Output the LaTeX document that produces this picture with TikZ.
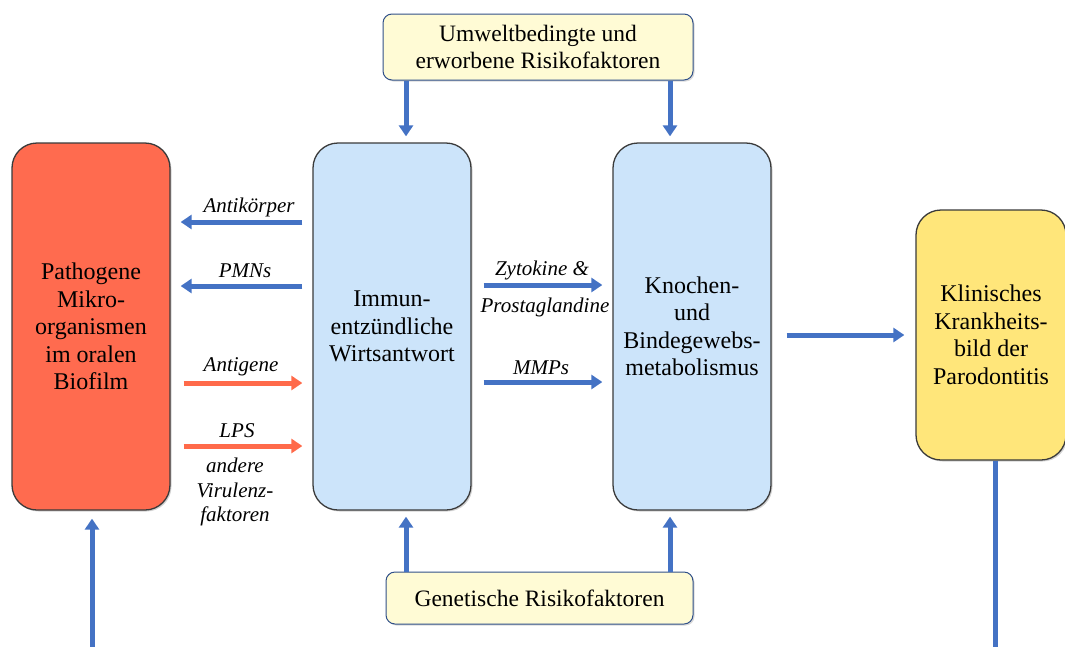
\documentclass[tikz,border=0pt]{standalone}
\usepackage{fontspec}
\setmainfont{Liberation Serif}
\usetikzlibrary{arrows.meta,shadows}
\definecolor{redbox}{HTML}{FF6B4F}
\definecolor{bluebox}{HTML}{CCE4FA}
\definecolor{yellowbox}{HTML}{FFE67A}
\definecolor{creambox}{HTML}{FFFBD5}
\definecolor{arrblue}{HTML}{4472C4}
\definecolor{arrred}{HTML}{FF6A4A}
\definecolor{edgegray}{HTML}{3A3A3A}
\tikzset{
  bigbox/.style={draw=edgegray, line width=1.3pt, rounded corners=25pt, align=center,
    font=\fontsize{24}{27.5}\selectfont, inner sep=0pt,
    drop shadow={shadow xshift=1.5pt, shadow yshift=-1.5pt, opacity=0.35}},
  riskbox/.style={draw=arrblue!70!black, line width=1pt, rounded corners=9pt, align=center,
    fill=creambox, font=\fontsize{23.5}{27.5}\selectfont, inner sep=0pt,
    drop shadow={shadow xshift=1.5pt, shadow yshift=-1.5pt, opacity=0.3}},
  barr/.style={draw=arrblue, line width=5pt, -{Triangle[width=14pt,length=11pt]}},
  rarr/.style={draw=arrred, line width=5pt, -{Triangle[width=14pt,length=11pt]}},
  bline/.style={draw=arrblue, line width=5pt},
  lbl/.style={font=\fontsize{21}{24.5}\selectfont\itshape, align=center, inner sep=0pt}
}
\begin{document}
\begin{tikzpicture}[x=1pt,y=-1pt]
\useasboundingbox (0,0) rectangle (1065,646);
\clip (0,0) rectangle (1065,646);

% boxes
\node[bigbox, fill=redbox, minimum width=158pt, minimum height=367pt] (red) at (91,326.5)
  {Pathogene\\Mikro-\\organismen\\im oralen\\Biofilm};
\node[bigbox, fill=bluebox, minimum width=158pt, minimum height=367pt] (imm) at (392,326.5)
  {Immun-\\entzündliche\\Wirtsantwort};
\node[bigbox, fill=bluebox, minimum width=158pt, minimum height=367pt] (kno) at (692,326.5)
  {Knochen-\\und\\Bindegewebs-\\metabolismus};
\node[bigbox, fill=yellowbox, minimum width=150pt, minimum height=250pt] (kli) at (991,335)
  {Klinisches\\Krankheits-\\bild der\\Parodontitis};
\node[riskbox, minimum width=310pt, minimum height=66pt] (umw) at (538,47)
  {Umweltbedingte und\\erworbene Risikofaktoren};
\node[riskbox, minimum width=307pt, minimum height=52pt] (gen) at (539.5,598)
  {Genetische Risikofaktoren};

% risk factor arrows
\draw[barr, shorten >=6pt] (umw.south -| 406,0) -- (imm.north -| 406,0);
\draw[barr, shorten >=6pt] (umw.south -| 670,0) -- (kno.north -| 670,0);
\draw[barr, shorten >=6pt] (gen.north -| 406,0) -- (imm.south -| 406,0);
\draw[barr, shorten >=6pt] (gen.north -| 670,0) -- (kno.south -| 670,0);

% between red and immune
\draw[barr, shorten <=10pt, shorten >=10pt] (imm.west |- 0,222) -- (red.east |- 0,222);
\node[lbl] (lab1) at (249,207) {Antikörper};
\draw[barr, shorten <=10pt, shorten >=10pt] (imm.west |- 0,286) -- (red.east |- 0,286);
\node[lbl] (lab2) at (245,271) {PMNs};
\draw[rarr, shorten <=13pt, shorten >=10pt] (red.east |- 0,383) -- (imm.west |- 0,383);
\node[lbl] (lab3) at (241,367) {Antigene};
\draw[rarr, shorten <=13pt, shorten >=10pt] (red.east |- 0,446) -- (imm.west |- 0,446);
\node[lbl] (lab4) at (237,431) {LPS};
\node[lbl] (lab5) at (235,492) {andere\\Virulenz-\\faktoren};

% between immune and bone
\draw[barr, shorten <=12pt, shorten >=10pt] (imm.east |- 0,285) -- (kno.west |- 0,285);
\node[lbl] (lab6) at (542,270) {Zytokine \&};
\node[lbl] (lab7) at (545,307) {Prostaglandine};
\draw[barr, shorten <=12pt, shorten >=10pt] (imm.east |- 0,382) -- (kno.west |- 0,382);
\node[lbl] (lab8) at (541,368) {MMPs};

% bone to clinical
\draw[barr, shorten <=15pt, shorten >=11pt] (kno.east |- 0,335) -- (kli.west |- 0,335);

% feedback lines to bottom edge
\coordinate (bl) at (92,650);
\coordinate (br) at (995,650);
\draw[barr, shorten >=8pt] (bl) -- (red.south -| bl);
\draw[bline] (kli.south -| br) -- (br);
\end{tikzpicture}
\end{document}
